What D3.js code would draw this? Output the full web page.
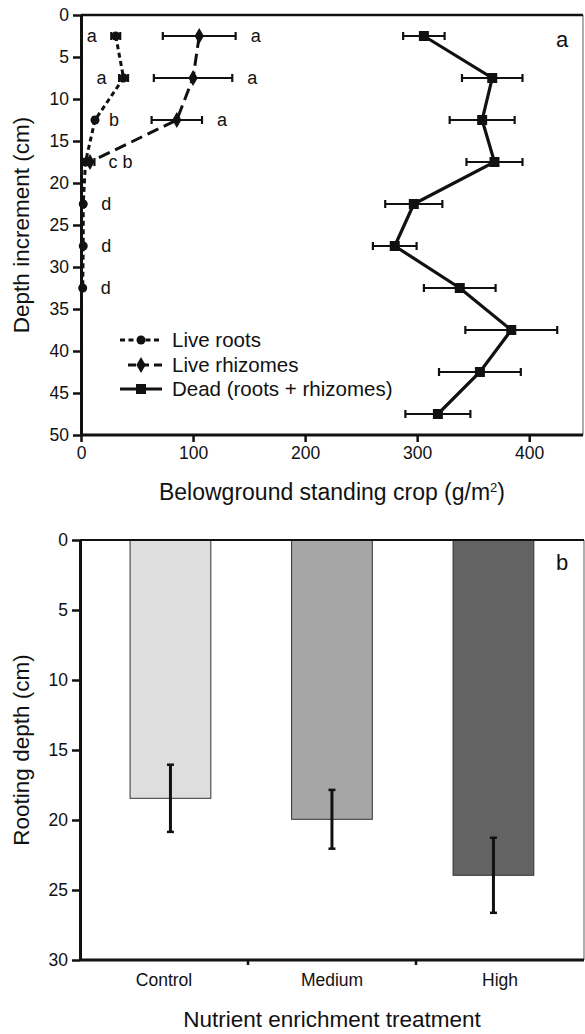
<!DOCTYPE html>
<html><head><meta charset="utf-8">
<script src="https://cdn.jsdelivr.net/npm/d3@7/dist/d3.min.js"></script>
<style>
html,body{margin:0;padding:0;background:#fff;}
svg{display:block;font-family:"Liberation Sans",Arial,Helvetica,sans-serif;}
</style></head>
<body>
<svg id="chart" width="585" height="1034"></svg>
<script>
// ---------- Panel a data ----------
const depths = [2.5, 7.5, 12.5, 17.5, 22.5, 27.5, 32.5, 37.5, 42.5, 47.5];
const rootsDepth = [2.5, 7.5, 12.5, 17.5, 22.5, 27.5, 32.5];
const rootsVal = [31, 38, 12.5, 4, 2, 2, 1.5];
const rootsErr = [4, 4, 1.5, 3, 0.5, 0.5, 0.5];
const rootsLetters = ["a", "a", "b", "c b", "d", "d", "d"];
const rhizDepth = [2.5, 7.5, 12.5, 17.5];
const rhizVal = [105.5, 100, 85.5, 8];
const rhizErr = [32.5, 35, 22.5, 4];
const rhizLetters = ["a", "a", "a", ""];
const deadVal = [306, 367, 358, 369, 297, 280, 338, 384, 356, 318.5];
const deadErr = [18.5, 27, 29, 25, 25.5, 19.5, 32, 41, 36.5, 29];
const xTicksA = [0, 100, 200, 300, 400];
const yTicksA = [0, 5, 10, 15, 20, 25, 30, 35, 40, 45, 50];
const legendLabels = ["Live roots", "Live rhizomes", "Dead (roots + rhizomes)"];

// ---------- Panel b data ----------
const treatments = ["Control", "Medium", "High"];
const rootDepthVal = [18.45, 19.95, 23.95];
const rootDepthErr = [2.4, 2.1, 2.68];
const barColors = ["#dedede", "#a6a6a6", "#636363"];
const yTicksB = [0, 5, 10, 15, 20, 25, 30];

const svg = d3.select("#chart");
const FONT_TICK = 17.5;

// ================= Panel a =================
const xa = d3.scaleLinear().domain([0, 448]).range([81, 583]);
const ya = d3.scaleLinear().domain([0, 50]).range([15, 435]);
const ga = svg.append("g");

ga.append("line").attr("x1", xa(448)).attr("x2", xa(448)).attr("y1", ya(0)).attr("y2", ya(50))
  .attr("stroke", "#777").attr("stroke-width", 1.2);
ga.append("line").attr("x1", xa(0)).attr("x2", xa(448)).attr("y1", ya(0)).attr("y2", ya(0))
  .attr("stroke", "#111").attr("stroke-width", 2.5);

const axA_x = ga.append("g").attr("transform", `translate(0,${ya(50)})`)
  .call(d3.axisBottom(xa).tickValues(xTicksA).tickSize(7).tickPadding(5).tickSizeOuter(0));
const axA_y = ga.append("g").attr("transform", `translate(${xa(0)},0)`)
  .call(d3.axisLeft(ya).tickValues(yTicksA).tickSize(8).tickPadding(4).tickSizeOuter(0));
[axA_x, axA_y].forEach(a => {
  a.select(".domain").attr("stroke", "#111").attr("stroke-width", 3);
  a.selectAll(".tick line").attr("stroke", "#111").attr("stroke-width", 2.5);
  a.selectAll(".tick text").attr("font-size", FONT_TICK).attr("fill", "#111")
    .attr("font-family", "Liberation Sans, Arial, sans-serif");
});
axA_x.select(".domain").attr("d", `M${xa(0)},0H${xa(448)}`);

ga.append("text").attr("x", (xa(0) + xa(448)) / 2).attr("y", 500).attr("text-anchor", "middle")
  .attr("font-size", 23).attr("fill", "#111")
  .html('Belowground standing crop (g/m<tspan dy="-8" font-size="13">2</tspan><tspan dy="8">)</tspan>');
ga.append("text").attr("transform", `translate(29,${(ya(0) + ya(50)) / 2}) rotate(-90)`)
  .attr("text-anchor", "middle").attr("font-size", 22.5).attr("fill", "#111")
  .text("Depth increment (cm)");

function hErr(g, vals, errs, ds, sw) {
  vals.forEach((v, i) => {
    const y = ya(ds[i]);
    g.append("line").attr("x1", xa(v - errs[i])).attr("x2", xa(v + errs[i]))
      .attr("y1", y).attr("y2", y).attr("stroke", "#111").attr("stroke-width", sw);
    [v - errs[i], v + errs[i]].forEach(e => {
      g.append("line").attr("x1", xa(e)).attr("x2", xa(e)).attr("y1", y - 4).attr("y2", y + 4)
        .attr("stroke", "#111").attr("stroke-width", sw);
    });
  });
}

const lineA = d3.line().x(d => xa(d[0])).y(d => ya(d[1]));

// Dead
ga.append("path").datum(deadVal.map((v, i) => [v, depths[i]])).attr("d", lineA)
  .attr("fill", "none").attr("stroke", "#111").attr("stroke-width", 3.2);
hErr(ga, deadVal, deadErr, depths, 2.2);
ga.selectAll(".sq").data(deadVal).enter().append("rect")
  .attr("x", (d) => xa(d) - 5).attr("y", (d, i) => ya(depths[i]) - 5)
  .attr("width", 10).attr("height", 10).attr("fill", "#111");

// Rhizomes
ga.append("path").datum(rhizVal.map((v, i) => [v, rhizDepth[i]])).attr("d", lineA)
  .attr("fill", "none").attr("stroke", "#111").attr("stroke-width", 3).attr("stroke-dasharray", "12,6");
hErr(ga, rhizVal, rhizErr, rhizDepth, 2.2);
const diamond = d3.symbol().type(d3.symbolDiamond).size(75);
ga.selectAll(".dm").data(rhizVal).enter().append("path").attr("d", diamond)
  .attr("transform", (d, i) => `translate(${xa(d)},${ya(rhizDepth[i])})`).attr("fill", "#111");

// Roots
ga.append("path").datum(rootsVal.map((v, i) => [v, rootsDepth[i]])).attr("d", lineA)
  .attr("fill", "none").attr("stroke", "#111").attr("stroke-width", 3).attr("stroke-dasharray", "5,3.5");
hErr(ga, rootsVal, rootsErr, rootsDepth, 2.2);
ga.selectAll(".ci").data(rootsVal).enter().append("circle")
  .attr("cx", d => xa(d)).attr("cy", (d, i) => ya(rootsDepth[i])).attr("r", 4.5).attr("fill", "#111");

// significance letters
const rootLetterDx = [-24, -22, 19, 35, 23, 23, 23];
rootsLetters.forEach((t, i) => {
  ga.append("text").attr("x", xa(rootsVal[i]) + rootLetterDx[i]).attr("y", ya(rootsDepth[i]))
    .attr("dy", "0.32em").attr("text-anchor", "middle").attr("font-size", 18).attr("fill", "#111").text(t);
});
rhizLetters.forEach((t, i) => {
  if (!t) return;
  ga.append("text").attr("x", xa(rhizVal[i] + rhizErr[i]) + 20).attr("y", ya(rhizDepth[i]))
    .attr("dy", "0.32em").attr("text-anchor", "middle").attr("font-size", 18).attr("fill", "#111").text(t);
});

ga.append("text").attr("x", 562).attr("y", 40).attr("dy", "0.32em").attr("text-anchor", "middle")
  .attr("font-size", 22).attr("fill", "#111").text("a");

// legend
const legY = [340, 365, 389];
const leg = ga.append("g");
leg.append("line").attr("x1", 120).attr("x2", 162).attr("y1", legY[0]).attr("y2", legY[0])
  .attr("stroke", "#111").attr("stroke-width", 3).attr("stroke-dasharray", "5,3.5");
leg.append("circle").attr("cx", 141).attr("cy", legY[0]).attr("r", 4.5).attr("fill", "#111");
leg.append("line").attr("x1", 128).attr("x2", 162).attr("y1", legY[1]).attr("y2", legY[1])
  .attr("stroke", "#111").attr("stroke-width", 3).attr("stroke-dasharray", "8,5");
leg.append("path").attr("d", diamond).attr("transform", `translate(141,${legY[1]})`).attr("fill", "#111");
leg.append("line").attr("x1", 120).attr("x2", 162).attr("y1", legY[2]).attr("y2", legY[2])
  .attr("stroke", "#111").attr("stroke-width", 3.2);
leg.append("rect").attr("x", 136).attr("y", legY[2] - 5).attr("width", 10).attr("height", 10).attr("fill", "#111");
legendLabels.forEach((t, i) => {
  leg.append("text").attr("x", 172).attr("y", legY[i]).attr("dy", "0.35em")
    .attr("font-size", 20.5).attr("fill", "#111").text(t);
});

// ================= Panel b =================
const xb = d3.scaleBand().domain(treatments).range([80, 584]).padding(0);
const xbBar = d3.scaleBand().domain(treatments).range([89.7, 574.2]).paddingInner(0.5).paddingOuter(0.25);
const yb = d3.scaleLinear().domain([0, 30]).range([540, 960]);
const gb = svg.append("g");

gb.append("line").attr("x1", 584).attr("x2", 584).attr("y1", yb(0)).attr("y2", yb(30))
  .attr("stroke", "#777").attr("stroke-width", 1.2);

gb.selectAll(".bar").data(rootDepthVal).enter().append("rect")
  .attr("x", (d, i) => xbBar(treatments[i])).attr("width", xbBar.bandwidth())
  .attr("y", yb(0)).attr("height", d => yb(d) - yb(0))
  .attr("fill", (d, i) => barColors[i]).attr("stroke", "#333").attr("stroke-width", 1);

gb.append("line").attr("x1", 80).attr("x2", 584).attr("y1", yb(0)).attr("y2", yb(0))
  .attr("stroke", "#111").attr("stroke-width", 2.2);

rootDepthVal.forEach((v, i) => {
  const cx = xbBar(treatments[i]) + xbBar.bandwidth() / 2;
  const e = rootDepthErr[i];
  gb.append("line").attr("x1", cx).attr("x2", cx).attr("y1", yb(v - e)).attr("y2", yb(v + e))
    .attr("stroke", "#111").attr("stroke-width", 3);
  [v - e, v + e].forEach(t => {
    gb.append("line").attr("x1", cx - 3.5).attr("x2", cx + 3.5).attr("y1", yb(t)).attr("y2", yb(t))
      .attr("stroke", "#111").attr("stroke-width", 2.5);
  });
});

const axB_y = gb.append("g").attr("transform", "translate(80,0)")
  .call(d3.axisLeft(yb).tickValues(yTicksB).tickSize(8).tickPadding(4).tickSizeOuter(0));
const axB_x = gb.append("g").attr("transform", `translate(0,${yb(30)})`)
  .call(d3.axisBottom(xb).tickSize(0).tickPadding(14).tickSizeOuter(0));
[axB_x, axB_y].forEach(a => {
  a.select(".domain").attr("stroke", "#111").attr("stroke-width", 3);
  a.selectAll(".tick line").attr("stroke", "#111").attr("stroke-width", 2.5);
  a.selectAll(".tick text").attr("font-size", FONT_TICK).attr("fill", "#111")
    .attr("font-family", "Liberation Sans, Arial, sans-serif");
});
axB_x.select(".domain").attr("d", "M80,0H584");
treatments.slice(1).forEach(t => {
  gb.append("line").attr("x1", xb(t)).attr("x2", xb(t)).attr("y1", yb(30)).attr("y2", yb(30) + 5)
    .attr("stroke", "#111").attr("stroke-width", 2.5);
});

gb.append("text").attr("x", 332).attr("y", 1027).attr("text-anchor", "middle")
  .attr("font-size", 22.5).attr("fill", "#111").text("Nutrient enrichment treatment");
gb.append("text").attr("transform", `translate(29,${(yb(0) + yb(30)) / 2}) rotate(-90)`)
  .attr("text-anchor", "middle").attr("font-size", 22.5).attr("fill", "#111")
  .text("Rooting depth (cm)");

gb.append("text").attr("x", 562).attr("y", 563).attr("dy", "0.32em").attr("text-anchor", "middle")
  .attr("font-size", 22).attr("fill", "#111").text("b");
</script>
</body></html>
